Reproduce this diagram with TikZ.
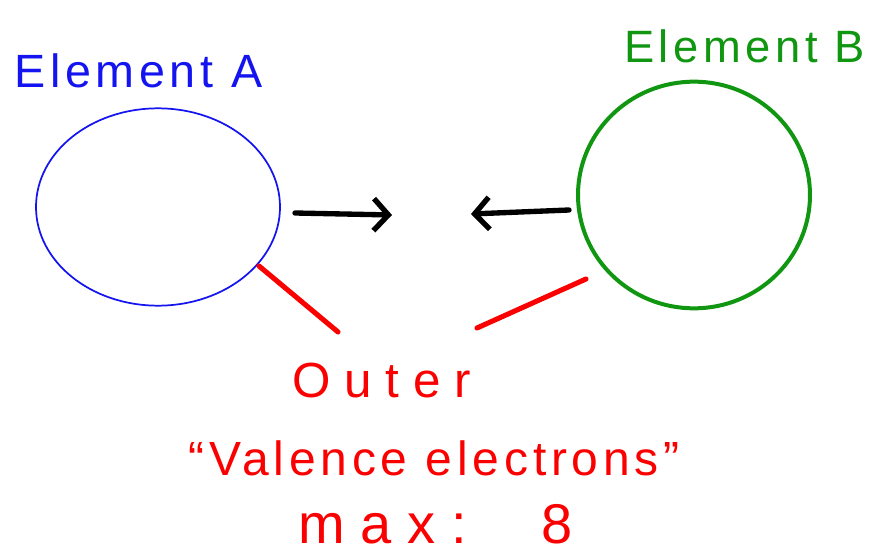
\documentclass[tikz,border=0pt]{standalone}
\usepackage{fontspec}
\setmainfont{Liberation Sans}
\newfontfamily\hand[LetterSpace=10]{Liberation Sans}
\newfontfamily\handwide[LetterSpace=28]{Liberation Sans}
\usetikzlibrary{arrows.meta,shapes.geometric}
\definecolor{pblue}{RGB}{20,20,240}
\definecolor{pgreen}{RGB}{16,150,16}
\definecolor{pred}{RGB}{250,0,0}
\tikzset{
  px/.style={x=0.75pt,y=-0.75pt},
  lbl/.style={inner sep=0pt, anchor=base west, font=\hand},
  atom/.style={draw, ellipse, inner sep=0pt},
  hint/.style={draw=pred, line width=3.8pt, line cap=round},
  push/.style={draw=black, line width=4pt, line cap=round, line join=round,
    -{Straight Barb[length=11pt,width=24pt,line width=4pt]}},
}
\begin{document}
\begin{tikzpicture}[px]
\useasboundingbox (0,0) rectangle (876,560);
% element A
\node[atom, draw=pblue, line width=1.3pt, minimum width=183pt, minimum height=148pt] (A) at (158,207) {};
\node[lbl, text=pblue, font=\hand\fontsize{35}{40}\selectfont] (la) at (14,88) {Element A};
% element B
\node[atom, draw=pgreen, line width=3pt, minimum width=174pt, minimum height=170pt] (B) at (694,195) {};
\node[lbl, text=pgreen, font=\hand\fontsize{34}{40}\selectfont] (lb) at (624,63) {Element B};
% arrows
\coordinate (a1) at (295,213);
\coordinate (a2) at (392,215);
\coordinate (b1) at (569,210);
\coordinate (b2) at (471,214);
\draw[push] (a1) -- (a2);
\draw[push] (b1) -- (b2);
% red text
\node[lbl, text=pred, font=\handwide\fontsize{37}{42}\selectfont] (t1) at (292,397) {Outer};
\node[lbl, text=pred, font=\hand\fontsize{36}{42}\selectfont] (t2) at (188,475) {“Valence electrons”};
\node[lbl, text=pred, font=\handwide\fontsize{42}{46}\selectfont] (t3) at (298,543) {max:\hspace{56pt}8};
% red lines
\coordinate (r1) at (259,266);
\coordinate (r2) at (338,332);
\coordinate (r3) at (586,279);
\coordinate (r4) at (477,328);
\draw[hint] (r1) -- (r2);
\draw[hint] (r3) -- (r4);
\end{tikzpicture}
\end{document}
